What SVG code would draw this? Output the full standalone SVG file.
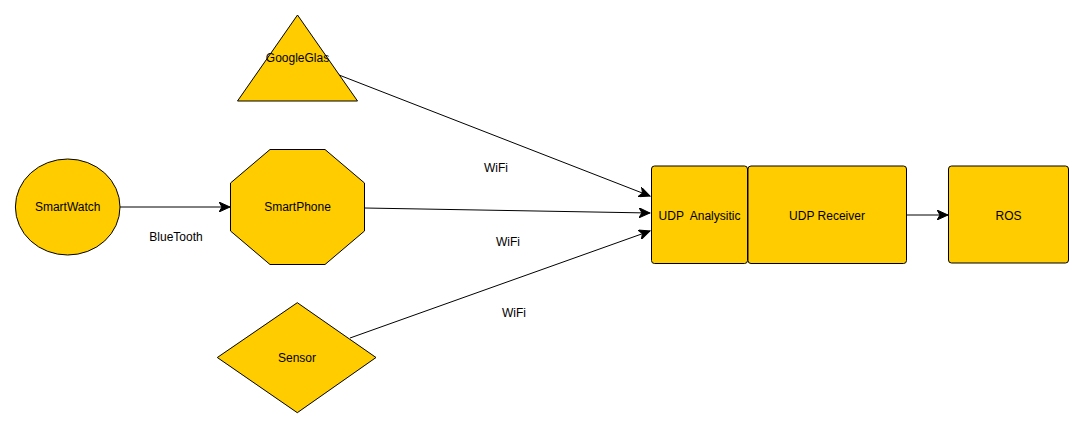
<svg xmlns="http://www.w3.org/2000/svg" width="1083" height="428" viewBox="0 0 1083 428">
<style>
.shape{fill:#ffcc00;stroke:#000;stroke-width:1}
.lbl{font-family:"Liberation Sans",Arial,sans-serif;font-size:12px;fill:#000;text-anchor:middle;dominant-baseline:central}
.edge{fill:none;stroke:#000;stroke-width:1;marker-end:url(#arr)}
</style>
<defs>
<marker id="arr" markerWidth="12" markerHeight="10" refX="11" refY="5" orient="auto" markerUnits="userSpaceOnUse">
<path d="M0,0 L11,5 L0,10 L3,5 Z" fill="#000" stroke="#000" stroke-width="1"/>
</marker>
</defs>
<rect width="1083" height="428" fill="#fff"/>
<g id="connectors">
<line class="edge" x1="120" y1="207" x2="230" y2="207"/>
<line class="edge" x1="339" y1="75" x2="650" y2="196"/>
<line class="edge" x1="364.5" y1="208" x2="650" y2="213"/>
<line class="edge" x1="350" y1="338" x2="650" y2="231"/>
<line class="edge" x1="907" y1="215" x2="948" y2="215"/>
<text class="lbl" x="176" y="237">BlueTooth</text>
<text class="lbl" x="496" y="168">WiFi</text>
<text class="lbl" x="508" y="242">WiFi</text>
<text class="lbl" x="514" y="313">WiFi</text>
</g>
<g id="smartwatch">
<ellipse class="shape" cx="67.7" cy="207" rx="52.3" ry="48"/>
<text class="lbl" x="67.7" y="207">SmartWatch</text>
</g>
<g id="googleglas">
<polygon class="shape" points="297.5,15 357.5,101 237.5,101"/>
<text class="lbl" x="297.5" y="58">GoogleGlas</text>
</g>
<g id="smartphone">
<polygon class="shape" points="270,149.5 325,149.5 364.5,183 364.5,231 325,264.5 270,264.5 230.5,231 230.5,183"/>
<text class="lbl" x="297.5" y="207">SmartPhone</text>
</g>
<g id="sensor">
<polygon class="shape" points="297.3,302.7 376,357.5 297.3,412.7 217.3,357.5"/>
<text class="lbl" x="297" y="358">Sensor</text>
</g>
<g id="udp-analysitic">
<rect class="shape" x="651.5" y="166" width="96" height="97.5" rx="3" ry="3"/>
<text class="lbl" x="699.5" y="216" xml:space="preserve">UDP  Analysitic</text>
</g>
<g id="udp-receiver">
<rect class="shape" x="748" y="166" width="158.5" height="97.5" rx="3" ry="3"/>
<text class="lbl" x="827" y="216">UDP Receiver</text>
</g>
<g id="ros">
<rect class="shape" x="948.5" y="166" width="120" height="97" rx="3" ry="3"/>
<text class="lbl" x="1008.5" y="216">ROS</text>
</g>
</svg>
